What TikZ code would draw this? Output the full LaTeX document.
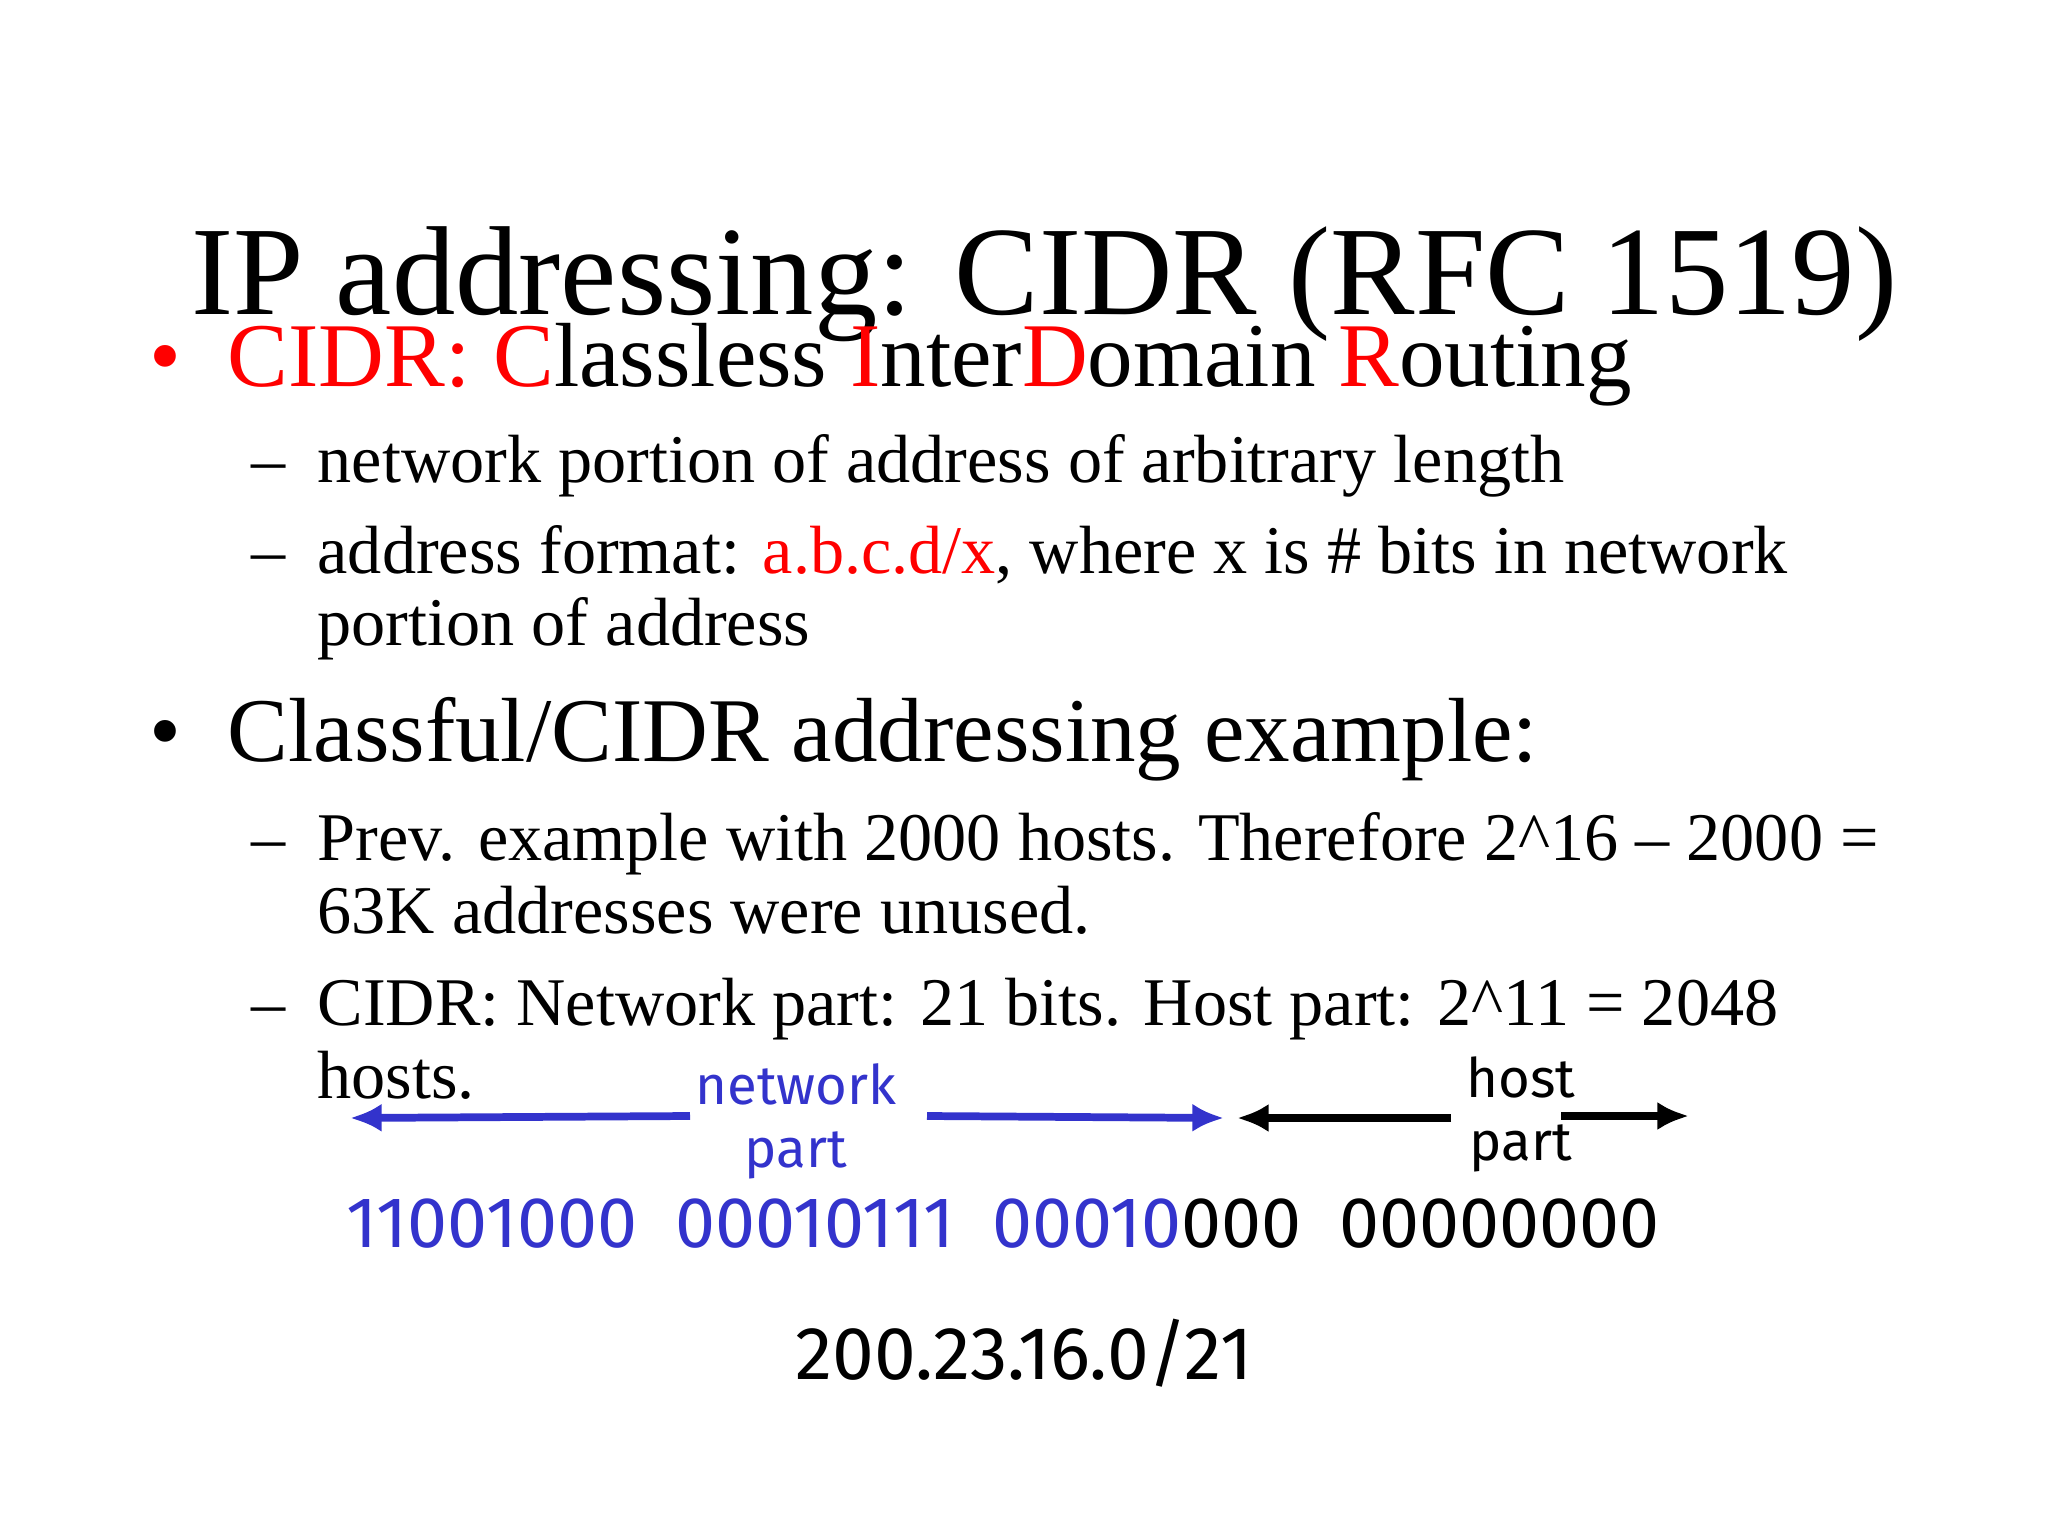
\documentclass[tikz,border=0pt]{standalone}
\usepackage{fontspec}
\setmainfont{Liberation Serif}
\newfontfamily\lab{Fira Sans}
\definecolor{rd}{RGB}{255,0,0}
\definecolor{bl}{RGB}{51,51,204}
\tikzset{
  tx/.style={anchor=base west,inner sep=0pt},
  ttl/.style={tx,font=\fontsize{36}{44}\selectfont},
  big/.style={tx,font=\fontsize{25.9}{32}\selectfont},
  sub/.style={tx,font=\fontsize{19.4}{24}\selectfont},
  lbl/.style={anchor=base,inner sep=0pt,font=\lab\fontsize{15.5}{19}\selectfont},
  bin/.style={anchor=base west,inner sep=0pt,font=\lab\fontsize{20.4}{25}\selectfont},
  arr/.style={line width=2.2pt,-{Latex[length=9pt,width=8pt]}},
}
\usetikzlibrary{arrows.meta}
\begin{document}
\begin{tikzpicture}[x=0.01cm,y=-0.01cm]
\useasboundingbox (0,0) rectangle (2048,1536);
\node[ttl] (title) at (191,314) {IP addressing: CIDR (RFC 1519)};
\node[big] (b1) at (149,386) {\textcolor{rd}{•}};
\node[big] (t1) at (227,386) {\textcolor{rd}{CIDR: C}lassless \textcolor{rd}{I}nter\textcolor{rd}{D}omain \textcolor{rd}{R}outing};
\node[sub] (d1) at (251,482) {–};
\node[sub] (s1) at (317,482) {network portion of address of arbitrary length};
\node[sub] (d2) at (251,573) {–};
\node[sub] (s2) at (317,573) {address format: \textcolor{rd}{a.b.c.d/x}, where x is \# bits in network};
\node[sub] (s2b) at (317,645) {portion of address};
\node[big] (b2) at (149,761) {•};
\node[big] (t2) at (227,761) {Classful/CIDR addressing example:};
\node[sub] (d3) at (251,860) {–};
\node[sub] (s3) at (317,860) {Prev. example with 2000 hosts. Therefore 2\^{}16 – 2000 =};
\node[sub] (s3b) at (317,933) {63K addresses were unused.};
\node[sub] (d4) at (251,1025) {–};
\node[sub] (s4) at (317,1025) {CIDR: Network part: 21 bits. Host part: 2\^{}11 = 2048};
\node[sub] (s4b) at (317,1098) {hosts.};
\node[lbl,text=bl] (nw) at (796,1104) {network};
\node[lbl,text=bl] (np) at (796,1167) {part};
\node[lbl] (hs) at (1521,1097) {host};
\node[lbl] (hp) at (1521,1160) {part};
\coordinate (a1) at (690,1116); \coordinate (a2) at (350,1118);
\coordinate (a3) at (927,1116); \coordinate (a4) at (1224,1118);
\coordinate (a5) at (1451,1118); \coordinate (a6) at (1237,1118);
\coordinate (a7) at (1561,1116); \coordinate (a8) at (1689,1116);
\draw[arr,bl] (a1) -- (a2);
\draw[arr,bl] (a3) -- (a4);
\draw[arr] (a5) -- (a6);
\draw[arr] (a7) -- (a8);
\node[bin] (bits) at (346,1247) {\textcolor{bl}{11001000\ \ 00010111\ \ 00010}000\ \ 00000000};
\node[bin,anchor=base,font=\lab\fontsize{21.3}{25}\selectfont] (cidr) at (1024,1379) {200.23.16.0/21};
\end{tikzpicture}
\end{document}
